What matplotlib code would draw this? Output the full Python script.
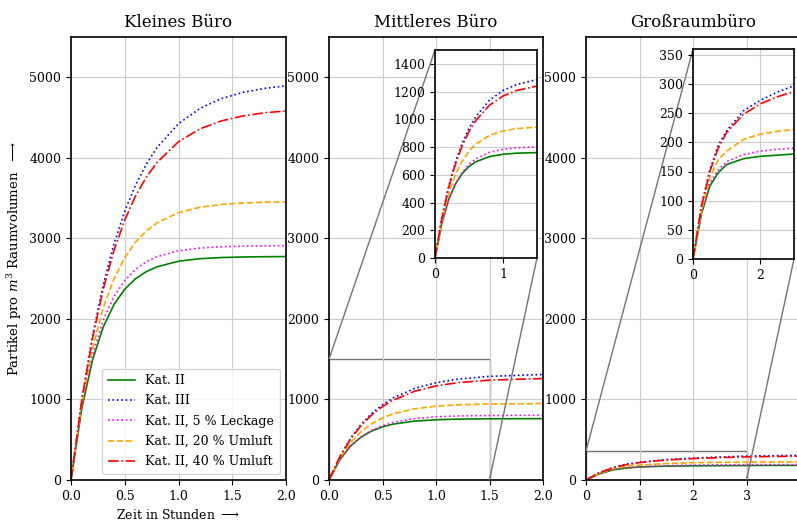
import matplotlib
matplotlib.use("Agg")
import matplotlib.pyplot as plt
from mpl_toolkits.axes_grid1.inset_locator import mark_inset

plt.rcParams['font.family'] = ['DejaVu Serif']
plt.rcParams['mathtext.fontset'] = 'dejavuserif'

labels = ["Kat. II", "Kat. III", "Kat. II, 5 % Leckage",
          "Kat. II, 20 % Umluft", "Kat. II, 40 % Umluft"]
colors = ["green", "blue", "magenta", "orange", "red"]
styles = ["-", ":", ":", "--", "-."]

titles = ["Kleines Büro", "Mittleres Büro", "Großraumbüro"]

# Kleines Büro
t_small = [0, 0.1, 0.2, 0.3, 0.4, 0.5, 0.6, 0.7, 0.8, 1.0, 1.2, 1.4, 1.6, 1.8, 2.0]
small_kat2 = [0, 886, 1489, 1900, 2179, 2369, 2499, 2587, 2647, 2716, 2748, 2762, 2769, 2772, 2774]
small_kat3 = [0, 994, 1789, 2424, 2931, 3337, 3661, 3920, 4127, 4424, 4614, 4736, 4813, 4862, 4894]
small_leck5 = [0, 923, 1554, 1984, 2278, 2478, 2615, 2709, 2773, 2846, 2880, 2896, 2904, 2907, 2909]
small_uml20 = [0, 948, 1636, 2135, 2498, 2761, 2953, 3092, 3193, 3319, 3386, 3421, 3439, 3449, 3454]
small_uml40 = [0, 985, 1760, 2370, 2850, 3227, 3524, 3758, 3942, 4200, 4360, 4459, 4520, 4559, 4582]

# Mittleres Büro
t_mid = [0, 0.1, 0.2, 0.3, 0.4, 0.5, 0.6, 0.8, 1.0, 1.2, 1.5, 2.0]
mid_kat2 = [0, 251, 421, 533, 609, 660, 694, 731, 748, 756, 760, 762]
mid_kat3 = [0, 289, 515, 691, 828, 935, 1020, 1137, 1208, 1251, 1287, 1310]
mid_leck5 = [0, 246, 417, 535, 618, 675, 715, 762, 784, 795, 801, 804]
mid_uml20 = [0, 269, 463, 600, 699, 770, 822, 884, 916, 933, 944, 949]
mid_uml40 = [0, 284, 505, 676, 809, 912, 991, 1102, 1168, 1208, 1240, 1260]

# Großraumbüro
t_big = [0, 0.25, 0.5, 0.75, 1.0, 1.5, 2.0, 2.5, 3.0, 3.5, 4.0]
big_kat2 = [0, 77, 125, 148, 162, 172, 176, 178, 180, 181, 181]
big_kat3 = [0, 91, 153, 195, 220, 254, 272, 286, 297, 302, 306]
big_leck5 = [0, 78, 130, 153, 167, 179, 185, 188, 190, 191, 191]
big_uml20 = [0, 82, 140, 170, 185, 205, 214, 219, 222, 224, 225]
big_uml40 = [0, 90, 150, 190, 217, 248, 266, 278, 287, 292, 296]

panels = [
    (t_small, [small_kat2, small_kat3, small_leck5, small_uml20, small_uml40], 2.0),
    (t_mid, [mid_kat2, mid_kat3, mid_leck5, mid_uml20, mid_uml40], 2.0),
    (t_big, [big_kat2, big_kat3, big_leck5, big_uml20, big_uml40], 4.0),
]

W, H = 797, 523
fig = plt.figure(figsize=(W / 100, H / 100), dpi=100)

def px_axes(x0, y0, x1, y1):
    return fig.add_axes([x0 / W, (H - y1) / H, (x1 - x0) / W, (y1 - y0) / H])

main_boxes = [(71, 37, 286, 480), (329, 37, 543, 480), (586, 37, 800, 480)]
axes = []
for i, (box, (t, series, xmax)) in enumerate(zip(main_boxes, panels)):
    ax = px_axes(*box)
    for y, lab, c, ls in zip(series, labels, colors, styles):
        ax.plot(t, y, color=c, linestyle=ls, linewidth=1.2, label=lab)
    ax.set_xlim(0, xmax)
    ax.set_ylim(0, 5500)
    ax.set_yticks([0, 1000, 2000, 3000, 4000, 5000])
    ax.grid(True, color='#cccccc', linewidth=0.8)
    ax.set_title(titles[i], fontsize=12, pad=7)
    ax.tick_params(labelsize=9)
    for s in ax.spines.values():
        s.set_linewidth(1.2)
    axes.append(ax)

axes[0].set_xticks([0.0, 0.5, 1.0, 1.5, 2.0])
axes[1].set_xticks([0.0, 0.5, 1.0, 1.5, 2.0])
axes[2].set_xticks([0, 1, 2, 3])
axes[0].set_xlabel(r"Zeit in Stunden $\longrightarrow$", fontsize=9)
axes[0].set_ylabel(r"Partikel pro $m^3$ Raumvolumen  $\longrightarrow$", fontsize=9.5)
axes[0].legend(loc='lower right', fontsize=9, framealpha=0.8,
               handlelength=2.2, borderpad=0.45, labelspacing=0.58)

# Insets
inset_specs = [
    (axes[1], (435, 50, 537, 258), 1.5, 1500, [0, 1], list(range(0, 1401, 200)), panels[1]),
    (axes[2], (693, 49, 794, 259), 3.0, 360, [0, 2], list(range(0, 351, 50)), panels[2]),
]
for parent, box, xmax, ymax, xt, yt, (t, series, _) in inset_specs:
    ins = px_axes(*box)
    for y, c, ls in zip(series, colors, styles):
        ins.plot(t, y, color=c, linestyle=ls, linewidth=1.2)
    ins.set_xlim(0, xmax)
    ins.set_ylim(0, ymax)
    ins.set_xticks(xt)
    ins.set_yticks(yt)
    ins.grid(True, color='#cccccc', linewidth=0.8)
    ins.tick_params(labelsize=9)
    for s in ins.spines.values():
        s.set_linewidth(1.2)
    mark_inset(parent, ins, loc1=2, loc2=4, fc="none", ec="0.45", lw=1.0)

fig.savefig("out.png", dpi=100)
